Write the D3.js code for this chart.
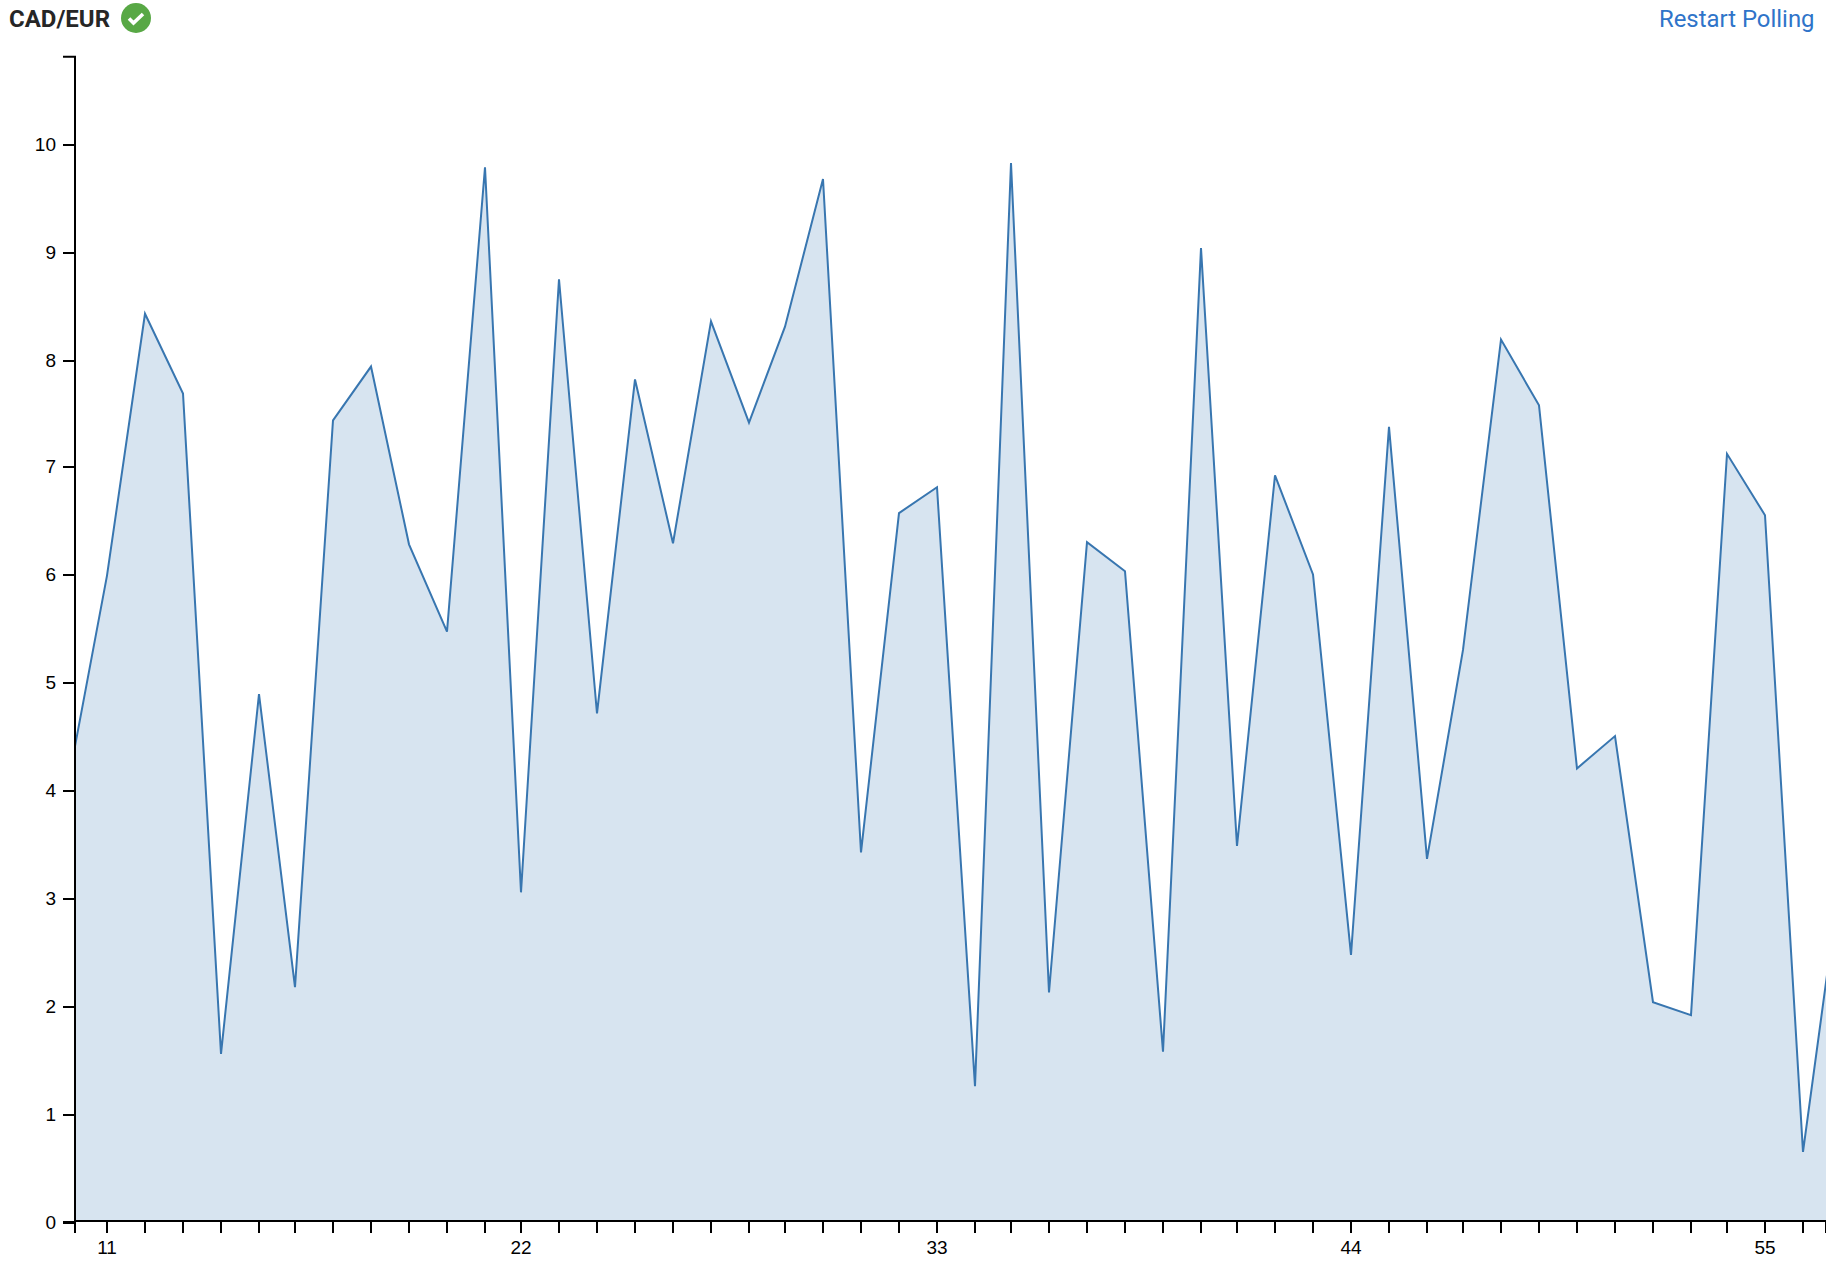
<!DOCTYPE html>
<html><head><meta charset="utf-8"><style>
html,body{margin:0;padding:0;background:#fff;overflow:hidden}
svg{display:block}
</style><script src="https://cdnjs.cloudflare.com/ajax/libs/d3/7.8.5/d3.min.js"></script></head><body>
<script>
const title = "CAD/EUR";
const linkLabel = "Restart Polling";
const periods = [10,11,12,13,14,15,16,17,18,19,20,21,22,23,24,25,26,27,28,29,30,31,32,33,34,35,36,37,38,39,40,41,42,43,44,45,46,47,48,49,50,51,52,53,54,55,56,57];
const rates = [4.12,6.0,8.43,7.69,1.56,4.90,2.18,7.44,7.94,6.29,5.48,9.79,3.06,8.75,4.72,7.82,6.30,8.36,7.42,8.31,9.68,3.43,6.58,6.82,1.26,9.83,2.13,6.31,6.04,1.58,9.04,3.49,6.93,6.01,2.48,7.38,3.37,5.31,8.19,7.58,4.21,4.51,2.04,1.92,7.13,6.56,0.65,3.25];
const xDomain = [10.138,56.608];
const yDomain = [0,10.815];
const yTickValues = [0,1,2,3,4,5,6,7,8,9,10];
const labelledPeriods = [11,22,33,44,55];
const points = periods.map((p,i)=>({p,v:rates[i]}));

const W=1826,H=1266,left=75,top_=56.8,bottom=1222,xAxisY=1221;
// source was laid out on whole CSS pixels at 2x, so positions land on an odd-pixel grid
const snap=(a,b)=>t=>2*Math.round((a+(b-a)*t-1)/2)+1;
const x=d3.scaleLinear().domain(xDomain).range([left,W]).interpolate(snap);
const y=d3.scaleLinear().domain(yDomain).range([bottom,top_]);
const yAxisScale=y.copy().interpolate(snap);
const svg=d3.select("body").append("svg").attr("width",W).attr("height",H);
svg.append("defs").append("clipPath").attr("id","plot").append("rect")
  .attr("x",left).attr("y",top_).attr("width",W-left).attr("height",bottom-top_);
const g=svg.append("g").attr("clip-path","url(#plot)");
g.append("path").datum(points).attr("fill","#d7e4f0")
  .attr("d",d3.area().x(d=>x(d.p)).y0(y(0)).y1(d=>y(d.v)));
g.append("path").datum(points).attr("fill","none").attr("stroke","#3876b0").attr("stroke-width",2)
  .attr("d",d3.line().x(d=>x(d.p)).y(d=>y(d.v)));

const xa=svg.append("g").attr("transform",`translate(0,${xAxisY})`)
  .call(d3.axisBottom(x).offset(0).tickValues(periods.filter(p=>p>=11&&p<=56))
    .tickSize(12).tickPadding(7.5)
    .tickFormat(d=>labelledPeriods.includes(d)?d:""));
const ya=svg.append("g").attr("transform",`translate(${left},0)`)
  .call(d3.axisLeft(yAxisScale).offset(0).tickValues(yTickValues).tickSize(12).tickPadding(7).tickFormat(d3.format("d")));
[xa,ya].forEach(a=>{
  a.selectAll("path,line").attr("stroke","#000").attr("stroke-width",2);
  a.selectAll("text").attr("fill","#000").attr("font-family","'Liberation Sans',Arial,sans-serif").attr("font-size",19);
});

svg.append("text").text(title).attr("x",9).attr("y",27).attr("font-family","Roboto,sans-serif")
  .attr("font-weight",700).attr("font-size",24).attr("fill","#262626");
const icon=svg.append("g").attr("transform","translate(136,18)");
icon.append("circle").attr("r",15).attr("fill","#58a845");
icon.append("path").attr("d","M-7,0.5 L-2.5,5 L7,-4").attr("fill","none").attr("stroke","#fff").attr("stroke-width",3.6);
svg.append("text").text(linkLabel).attr("x",1814.5).attr("y",27).attr("text-anchor","end")
  .attr("font-family","Roboto,sans-serif").attr("font-size",23.9).attr("fill","#2f74c9");
</script></body></html>
